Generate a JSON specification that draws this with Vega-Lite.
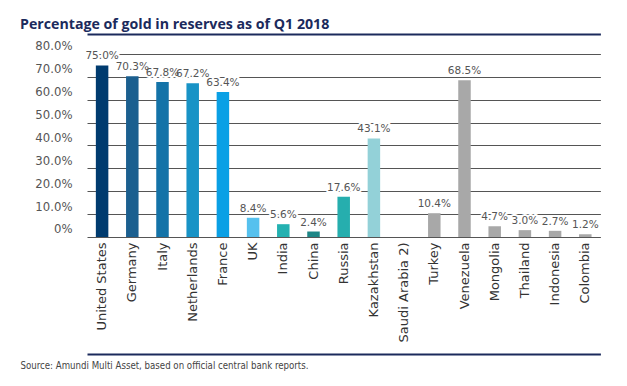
{
  "$schema": "https://vega.github.io/schema/vega-lite/v6.json",
  "width": 587,
  "height": 320,
  "autosize": {"type": "none"},
  "padding": {"left": 20, "top": 34, "right": 20, "bottom": 32},
  "background": "white",
  "config": {
    "view": {"stroke": null},
    "font": "DejaVu Sans",
    "axis": {"labelOverlap": false},
    "axisY": {"labelOverlap": false},
    "axisQuantitative": {"labelOverlap": false}
  },
  "title": {
    "text": "Percentage of gold in reserves as of Q1 2018",
    "anchor": "start",
    "frame": "group",
    "font": "Open Sans",
    "fontSize": 14.2,
    "fontWeight": "bold",
    "color": "#1b2a5c",
    "baseline": "alphabetic",
    "offset": -22
  },
  "data": {
    "values": [
      {"country": "United States", "value": 0.750},
      {"country": "Germany", "value": 0.703},
      {"country": "Italy", "value": 0.678},
      {"country": "Netherlands", "value": 0.672},
      {"country": "France", "value": 0.634},
      {"country": "UK", "value": 0.084},
      {"country": "India", "value": 0.056},
      {"country": "China", "value": 0.024},
      {"country": "Russia", "value": 0.176},
      {"country": "Kazakhstan", "value": 0.431},
      {"country": "Saudi Arabia 2)", "value": null},
      {"country": "Turkey", "value": 0.104},
      {"country": "Venezuela", "value": 0.685},
      {"country": "Mongolia", "value": 0.047},
      {"country": "Thailand", "value": 0.030},
      {"country": "Indonesia", "value": 0.027},
      {"country": "Colombia", "value": 0.012}
    ]
  },
  "encoding": {
    "x": {
      "field": "country",
      "type": "nominal",
      "sort": null,
      "scale": {
        "domain": ["United States", "Germany", "Italy", "Netherlands", "France", "UK", "India", "China", "Russia", "Kazakhstan", "Saudi Arabia 2)", "Turkey", "Venezuela", "Mongolia", "Thailand", "Indonesia", "Colombia"],
        "range": [67, 580.4],
        "paddingInner": 0.586,
        "paddingOuter": 0.293
      },
      "axis": {
        "orient": "bottom",
        "offset": -117,
        "labelAngle": -90,
        "labelPadding": 5,
        "labelFont": "DejaVu Sans",
        "labelFontSize": 13,
        "labelColor": "#333333",
        "labelBound": false,
        "labelOverlap": false,
        "ticks": false,
        "domain": false,
        "grid": false,
        "title": "Source: Amundi Multi Asset, based on official central bank reports.",
        "titleX": 0,
        "titleY": 131,
        "titleAnchor": "start",
        "titleAlign": "left",
        "titleBaseline": "alphabetic",
        "titleFont": "DejaVu Sans Condensed",
        "titleFontSize": 9.6,
        "titleFontWeight": "normal",
        "titleColor": "#444444"
      }
    },
    "y": {
      "field": "value",
      "type": "quantitative",
      "title": null,
      "scale": {"domain": [-0.51148, 0.88743], "nice": false, "zero": false},
      "axis": {
        "values": [-0.51148, 0, 0.1, 0.2, 0.3, 0.4, 0.5, 0.6, 0.7, 0.8, 0.88743],
        "labelExpr": "datum.value < -0.5 || datum.value > 0.85 ? '' : datum.value == 0 ? '0%' : format(datum.value, '.1%')",
        "domain": false,
        "ticks": false,
        "labelPadding": -52,
        "labelOffset": -8,
        "labelFont": "DejaVu Sans",
        "labelFontSize": 11.7,
        "labelColor": "#555555",
        "labelFlush": false,
        "labelOverlap": false,
        "labelBound": false,
        "grid": true,
        "gridColor": {"condition": {"test": "datum.value < -0.5 || datum.value > 0.85", "value": "#1b2a5c"}, "value": "#555555"},
        "gridWidth": {"condition": {"test": "datum.value < -0.5 || datum.value > 0.85", "value": 2}, "value": 1}
      }
    }
  },
  "layer": [
    {
      "mark": {"type": "bar"},
      "encoding": {
        "color": {
          "field": "country",
          "type": "nominal",
          "sort": null,
          "legend": null,
          "scale": {
            "domain": ["United States", "Germany", "Italy", "Netherlands", "France", "UK", "India", "China", "Russia", "Kazakhstan", "Saudi Arabia 2)", "Turkey", "Venezuela", "Mongolia", "Thailand", "Indonesia", "Colombia"],
            "range": ["#003b6f", "#1b5f8f", "#1473a8", "#1893c6", "#0aa0e5", "#56c1ee", "#24b1b1", "#1e8686", "#26aeae", "#93d1d8", "#a8a8a8", "#a8a8a8", "#a8a8a8", "#a8a8a8", "#a8a8a8", "#a8a8a8", "#a8a8a8"]
          }
        }
      }
    },
    {
      "transform": [{"filter": "datum.value != null"}],
      "mark": {"type": "text", "baseline": "alphabetic", "dy": -6, "fontSize": 10.5, "font": "DejaVu Sans", "fill": "white", "stroke": "white", "strokeWidth": 4, "strokeJoin": "round"},
      "encoding": {
        "text": {"field": "value", "format": ".1%"}
      }
    },
    {
      "transform": [{"filter": "datum.value != null"}],
      "mark": {"type": "text", "baseline": "alphabetic", "dy": -6, "fontSize": 10.5, "font": "DejaVu Sans", "fill": "#555555"},
      "encoding": {
        "text": {"field": "value", "format": ".1%"}
      }
    }
  ]
}
